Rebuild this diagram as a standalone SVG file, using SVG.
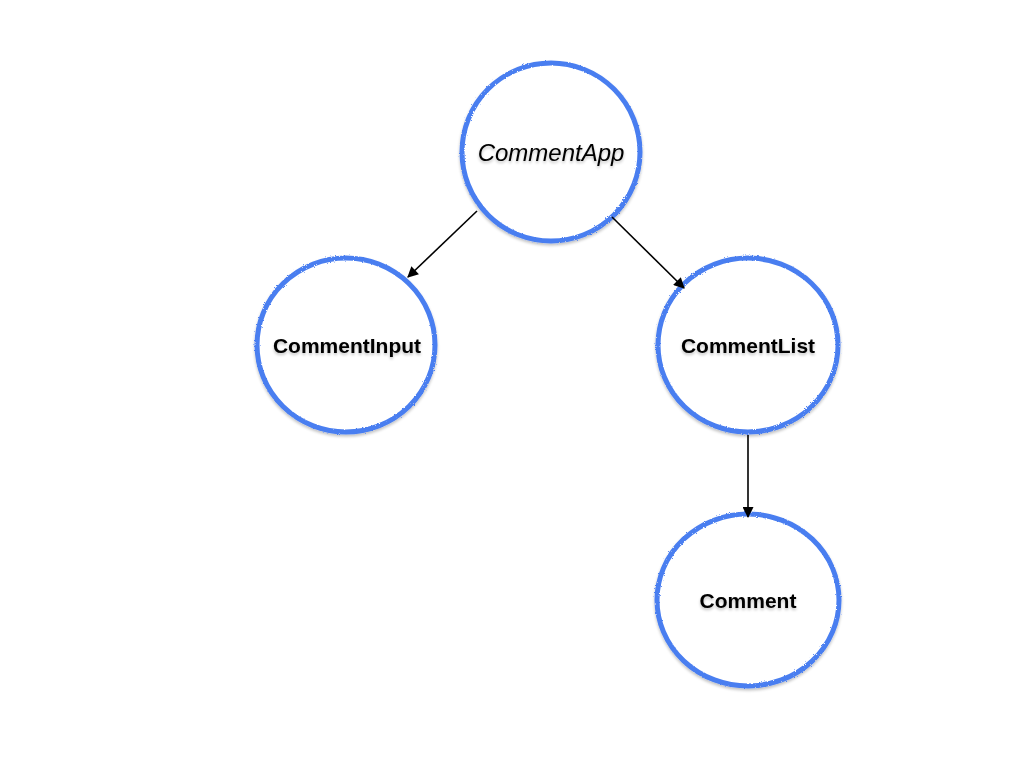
<svg xmlns="http://www.w3.org/2000/svg" width="1024" height="768" viewBox="0 0 1024 768">
  <defs>
    <marker id="arrow" viewBox="0 0 10 10" refX="9" refY="5" markerWidth="12" markerHeight="11" markerUnits="userSpaceOnUse" orient="auto">
      <path d="M0,0 L10,5 L0,10 z" fill="#000"/>
    </marker>
    <filter id="shadow" x="-20%" y="-20%" width="140%" height="140%">
      <feGaussianBlur in="SourceAlpha" stdDeviation="1.5"/>
      <feOffset dx="0" dy="2" result="b"/>
      <feComponentTransfer><feFuncA type="linear" slope="0.25"/></feComponentTransfer>
      <feMerge><feMergeNode/><feMergeNode in="SourceGraphic"/></feMerge>
    </filter>
    <filter id="rough" x="-10%" y="-10%" width="120%" height="120%">
      <feTurbulence type="fractalNoise" baseFrequency="0.9" numOctaves="2" result="n"/>
      <feDisplacementMap in="SourceGraphic" in2="n" scale="2.5" result="d"/>
      <feGaussianBlur in="SourceAlpha" stdDeviation="1.5"/>
      <feOffset dx="0" dy="2"/>
      <feComponentTransfer><feFuncA type="linear" slope="0.25"/></feComponentTransfer>
      <feMerge><feMergeNode/><feMergeNode in="d"/></feMerge>
    </filter>
  </defs>
  <style>
    .node { fill: #ffffff; stroke: #4a7ef0; stroke-width: 5; filter: url(#rough); }
    .label { font-family: "Liberation Sans", Arial, sans-serif; font-size: 21px; font-weight: bold; fill: #000; text-anchor: middle; dominant-baseline: central; filter: url(#shadow); }
    .italic { font-weight: normal; font-style: italic; font-size: 24px; }
    .edge { stroke: #000; stroke-width: 1.6; fill: none; marker-end: url(#arrow); }
  </style>
  <rect width="1024" height="768" fill="#ffffff"/>
  <g id="node-commentapp">
    <ellipse class="node" cx="551" cy="152" rx="89" ry="89"/>
    <text class="label italic" x="551" y="152">CommentApp</text>
  </g>
  <g id="node-commentinput">
    <ellipse class="node" cx="346" cy="345" rx="89" ry="87"/>
    <text class="label" x="347" y="345">CommentInput</text>
  </g>
  <g id="node-commentlist">
    <ellipse class="node" cx="748" cy="345" rx="90" ry="87"/>
    <text class="label" x="748" y="345">CommentList</text>
  </g>
  <g id="node-comment">
    <ellipse class="node" cx="748" cy="600" rx="91" ry="86"/>
    <text class="label" x="748" y="600">Comment</text>
  </g>
  <g id="connectors">
    <line class="edge" x1="477" y1="211" x2="408" y2="277"/>
    <line class="edge" x1="612" y1="217" x2="684" y2="288"/>
    <line class="edge" x1="748" y1="435" x2="748" y2="517"/>
  </g>
</svg>
